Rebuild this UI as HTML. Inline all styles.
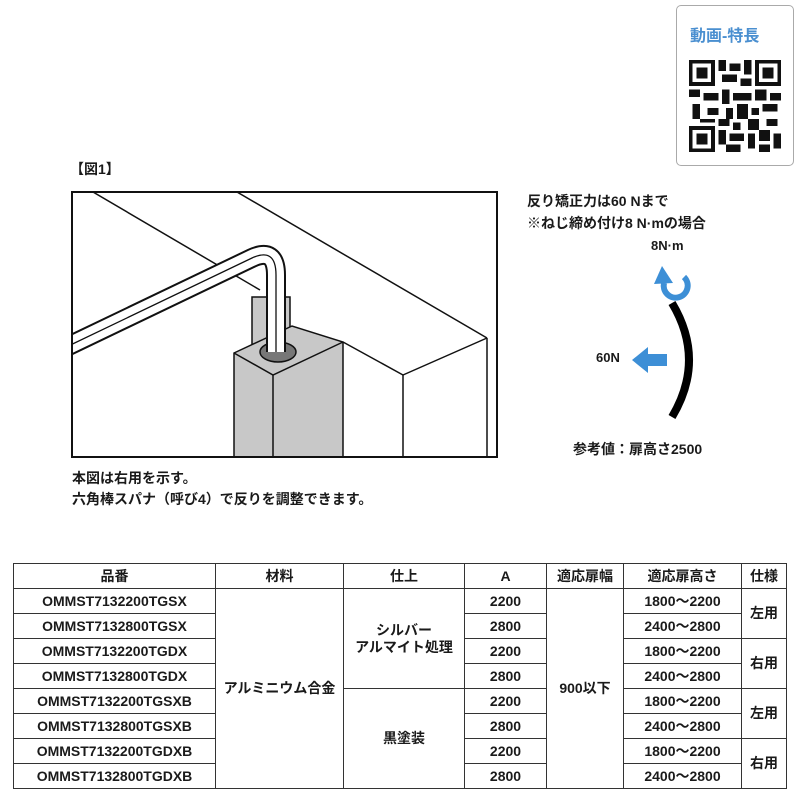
<!DOCTYPE html>
<html><head><meta charset="utf-8"><style>
body{margin:0;width:800px;height:800px;background:#fff;position:relative;overflow:hidden;font-family:"Liberation Sans","Noto Sans CJK JP",sans-serif;color:#1a1a1a}
.t{position:absolute;white-space:nowrap;font-size:14px;font-weight:bold}
table{position:absolute;left:13px;top:563px;border-collapse:collapse;font-size:14px;table-layout:fixed;font-weight:bold}
td{border:1px solid #333;text-align:center;height:24px;padding:0;line-height:17px}
</style></head><body>
<div style="position:absolute;left:676px;top:5px;width:116px;height:159px;border:1px solid #aaa;border-radius:5px"></div>
<div class="t" style="left:690px;top:22px;font-size:16px;color:#4a8fd0">動画-特長</div>
<svg style="position:absolute;left:688px;top:60px" width="94" height="92" viewBox="0 0 25 25" shape-rendering="crispEdges">
<g fill="#111">
<rect x="0" y="0" width="7" height="7"/><rect x="18" y="0" width="7" height="7"/><rect x="0" y="18" width="7" height="7"/>
</g><g fill="#fff"><rect x="1" y="1" width="5" height="5"/><rect x="19" y="1" width="5" height="5"/><rect x="1" y="19" width="5" height="5"/></g>
<g fill="#111"><rect x="2" y="2" width="3" height="3"/><rect x="20" y="2" width="3" height="3"/><rect x="2" y="20" width="3" height="3"/>
<rect x="8" y="0" width="2" height="3"/><rect x="11" y="1" width="3" height="2"/><rect x="15" y="0" width="2" height="4"/><rect x="9" y="4" width="4" height="2"/><rect x="14" y="5" width="3" height="2"/>
<rect x="0" y="8" width="3" height="2"/><rect x="4" y="9" width="4" height="2"/><rect x="9" y="8" width="2" height="4"/><rect x="12" y="9" width="5" height="2"/><rect x="18" y="8" width="3" height="3"/><rect x="22" y="9" width="3" height="2"/>
<rect x="1" y="12" width="2" height="4"/><rect x="5" y="13" width="3" height="2"/><rect x="10" y="13" width="2" height="3"/><rect x="13" y="12" width="3" height="4"/><rect x="17" y="13" width="2" height="2"/><rect x="20" y="12" width="4" height="2"/>
<rect x="3" y="16" width="4" height="1"/><rect x="8" y="16" width="3" height="2"/><rect x="12" y="17" width="2" height="2"/><rect x="16" y="16" width="3" height="3"/><rect x="21" y="16" width="3" height="2"/>
<rect x="8" y="19" width="2" height="4"/><rect x="11" y="20" width="4" height="2"/><rect x="16" y="20" width="2" height="4"/><rect x="19" y="19" width="3" height="3"/><rect x="23" y="20" width="2" height="4"/>
<rect x="10" y="23" width="4" height="2"/><rect x="19" y="23" width="3" height="2"/></g></svg>

<div class="t" style="left:70px;top:159px">【図1】</div>

<svg style="position:absolute;left:0;top:0" width="800" height="470">
<defs><clipPath id="c"><rect x="72" y="192" width="425" height="265"/></clipPath></defs>
<rect x="72" y="192" width="425" height="265" fill="#fff"/>
<g clip-path="url(#c)">
<g stroke="#111" stroke-width="1.5" fill="none">
<line x1="93" y1="192" x2="260" y2="290"/>
<line x1="237" y1="192" x2="487" y2="338"/>
<line x1="343" y1="342" x2="403" y2="375"/>
<line x1="403" y1="375" x2="487" y2="338"/>
<line x1="403" y1="375" x2="403" y2="457"/>
<line x1="487" y1="338" x2="487" y2="457"/>
</g>
<rect x="252" y="297" width="38" height="50" fill="#c8c8c8" stroke="#111" stroke-width="1.5"/>
<path d="M234,353 L292,326 L343,342 L343,457 L234,457 Z" fill="#c8c8c8" stroke="#111" stroke-width="1.5"/>
<path d="M234,353 L273,375 L343,342" fill="none" stroke="#111" stroke-width="1.5"/>
<line x1="273" y1="375" x2="273" y2="457" stroke="#111" stroke-width="1.5"/>
<ellipse cx="278" cy="352" rx="18" ry="10" fill="#777" stroke="#111" stroke-width="1.5"/>
<path d="M60,350 L252,258 Q276,247 276,275 L276,352" fill="none" stroke="#111" stroke-width="20"/>
<path d="M60,350 L252,258 Q276,247 276,275 L276,352" fill="none" stroke="#fff" stroke-width="16"/>
<path d="M60,350 L252,258 Q276,247 276,275 L276,352" fill="none" stroke="#111" stroke-width="1.3"/>
</g>
<rect x="72" y="192" width="425" height="265" fill="none" stroke="#111" stroke-width="2"/>

<path d="M672,303 Q706,360 672,417" fill="none" stroke="#000" stroke-width="8"/>
<path d="M667,354 L648,354 L648,347 L632,360 L648,373 L648,366 L667,366 Z" fill="#3d8fd6"/>
<path d="M664,283 A12,12 0 1 0 684,277" fill="none" stroke="#3d8fd6" stroke-width="6"/>
<path d="M654,284 L662,266 L673,283 Z" fill="#3d8fd6"/>
</svg>
<div class="t" style="left:527px;top:191px">反り矯正力は60 Nまで</div>
<div class="t" style="left:527px;top:213px">※ねじ締め付け8 N·mの場合</div>
<div class="t" style="left:651px;top:238px;font-size:13px">8N·m</div>
<div class="t" style="left:596px;top:350px;font-size:13px">60N</div>
<div class="t" style="left:573px;top:439px">参考値：扉高さ2500</div>
<div class="t" style="left:72px;top:468px">本図は右用を示す。</div>
<div class="t" style="left:72px;top:489px">六角棒スパナ（呼び4）で反りを調整できます。</div>

<table>
<colgroup><col style="width:202px"><col style="width:128px"><col style="width:121px"><col style="width:82px"><col style="width:77px"><col style="width:118px"><col style="width:45px"></colgroup>
<tr><td>品番</td><td>材料</td><td>仕上</td><td>A</td><td>適応扉幅</td><td>適応扉高さ</td><td>仕様</td></tr>
<tr><td>OMMST7132200TGSX</td><td rowspan="8">アルミニウム合金</td><td rowspan="4">シルバー<br>アルマイト処理</td><td>2200</td><td rowspan="8">900以下</td><td>1800～2200</td><td rowspan="2">左用</td></tr>
<tr><td>OMMST7132800TGSX</td><td>2800</td><td>2400～2800</td></tr>
<tr><td>OMMST7132200TGDX</td><td>2200</td><td>1800～2200</td><td rowspan="2">右用</td></tr>
<tr><td>OMMST7132800TGDX</td><td>2800</td><td>2400～2800</td></tr>
<tr><td>OMMST7132200TGSXB</td><td rowspan="4">黒塗装</td><td>2200</td><td>1800～2200</td><td rowspan="2">左用</td></tr>
<tr><td>OMMST7132800TGSXB</td><td>2800</td><td>2400～2800</td></tr>
<tr><td>OMMST7132200TGDXB</td><td>2200</td><td>1800～2200</td><td rowspan="2">右用</td></tr>
<tr><td>OMMST7132800TGDXB</td><td>2800</td><td>2400～2800</td></tr>
</table>
</body></html>
